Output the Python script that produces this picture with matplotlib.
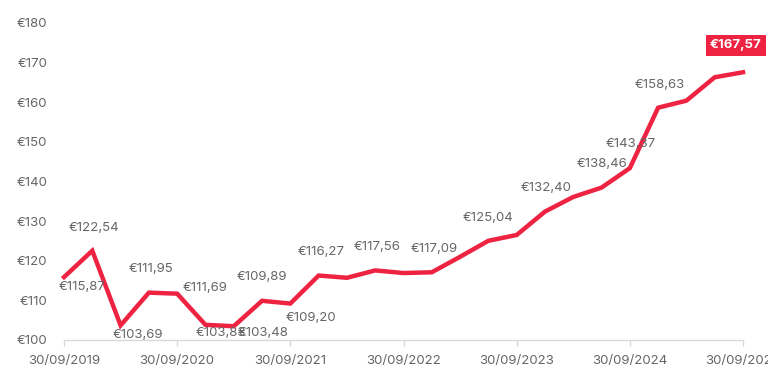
import matplotlib
matplotlib.use("Agg")
import matplotlib.pyplot as plt

# Quarterly values, 30/09/2019 .. 30/09/2025
values = [115.87, 122.54, 103.69, 111.95, 111.69, 103.83, 103.48, 109.89,
          109.20, 116.27, 115.70, 117.56, 116.90, 117.09, 121.00, 125.04,
          126.50, 132.40, 136.10, 138.46, 143.37, 158.63, 160.40, 166.30,
          167.57]
tick_labels = ["30/09/2019", "30/09/2020", "30/09/2021", "30/09/2022",
               "30/09/2023", "30/09/2024", "30/09/2025"]
yticks = [100, 110, 120, 130, 140, 150, 160, 170, 180]
# labelled points: index -> label text
labelled = {0: "€115,87", 1: "€122,54", 2: "€103,69", 3: "€111,95",
            4: "€111,69", 5: "€103,83", 6: "€103,48", 7: "€109,89",
            8: "€109,20", 9: "€116,27", 11: "€117,56", 13: "€117,09",
            15: "€125,04", 17: "€132,40", 19: "€138,46", 20: "€143,37",
            21: "€158,63"}
# label offsets in pixels (dx, dy down positive)
offsets = {0: (18, 10), 1: (2, -23), 2: (17, 10), 3: (2, -24), 4: (28, -6),
           5: (15, 8), 6: (29, 7), 7: (0, -24), 8: (21, 14), 9: (3, -24),
           11: (2, -23), 13: (2, -23), 15: (0, -23), 17: (1, -24),
           19: (0, -24), 20: (1, -24), 21: (2, -23)}
last_label = "€167,57"

RED = "#EE2342"
GREY = "#666666"
FONT = "Inter"

fig = plt.figure(figsize=(7.68, 3.84), dpi=100)
ax = fig.add_axes([64 / 768, 1 - 340 / 384, (743 - 64) / 768, (340 - 23) / 384])

x = list(range(len(values)))
ax.plot(x, values, color=RED, lw=3.2, solid_joinstyle="miter", clip_on=False, zorder=3)

ax.set_xlim(0, len(values) - 1)
ax.set_ylim(100, 180)
ax.set_yticks(yticks)
ax.set_yticklabels([f"€{v}" for v in yticks])
ax.set_xticks(list(range(0, len(values), 4)))
ax.set_xticklabels(tick_labels)

for s in ["top", "right", "left"]:
    ax.spines[s].set_visible(False)
ax.spines["bottom"].set_color("#d9d9d9")
ax.spines["bottom"].set_linewidth(1)
ax.tick_params(axis="y", length=0, pad=12, labelsize=9.5, labelcolor=GREY)
ax.tick_params(axis="x", length=4, width=1, color="#d9d9d9", pad=7,
               labelsize=9.5, labelcolor=GREY)
for t in ax.get_xticklabels() + ax.get_yticklabels():
    t.set_fontfamily(FONT)

pt = 0.72
for i, txt in labelled.items():
    dx, dy = offsets[i]
    ax.annotate(txt, (i, values[i]), xytext=(dx * pt, -dy * pt),
                textcoords="offset points", ha="center", va="center",
                fontsize=9.5, color=GREY, fontfamily=FONT, zorder=4)

ax.annotate(last_label, (len(values) - 1, values[-1]), xytext=(-7 * pt, 27 * pt),
            textcoords="offset points", ha="center", va="center",
            fontsize=9.5, color="white", fontweight="bold", fontfamily=FONT,
            bbox=dict(boxstyle="square,pad=0.35", fc=RED, ec="none"), zorder=5,
            annotation_clip=False)

fig.savefig("out.png", dpi=100)
